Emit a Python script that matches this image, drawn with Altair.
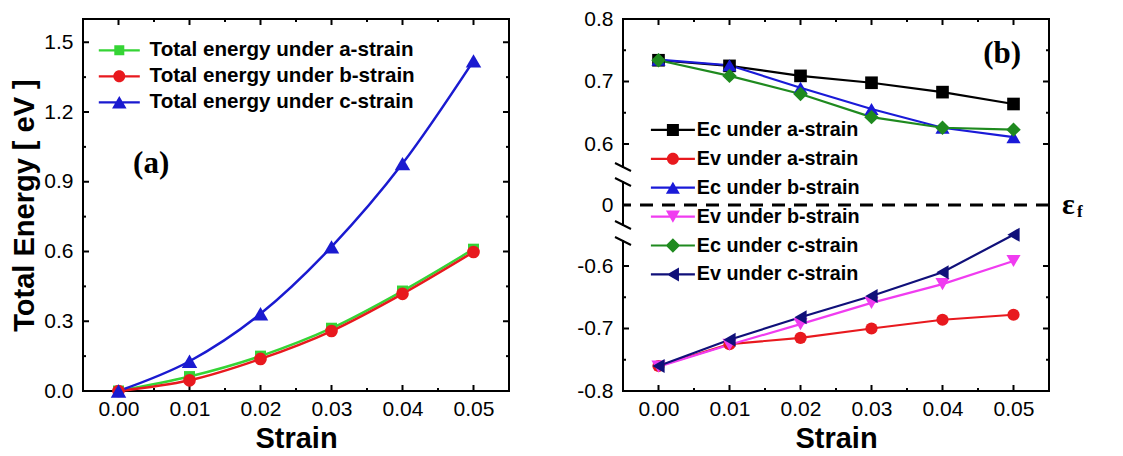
import altair as alt
import pandas as pd

# ---------------- data ----------------
strain = [0.00, 0.01, 0.02, 0.03, 0.04, 0.05]

total_names = ["Total energy under a-strain",
               "Total energy under b-strain",
               "Total energy under c-strain"]
total_a = [0.0, 0.062, 0.150, 0.270, 0.430, 0.610]
total_b = [0.0, 0.046, 0.138, 0.258, 0.418, 0.598]
total_c = [0.0, 0.128, 0.332, 0.620, 0.978, 1.420]

band_names = ["Ec under a-strain", "Ev under a-strain",
              "Ec under b-strain", "Ev under b-strain",
              "Ec under c-strain", "Ev under c-strain"]
ec_a = [0.734, 0.725, 0.709, 0.698, 0.683, 0.664]
ev_a = [-0.760, -0.725, -0.715, -0.700, -0.686, -0.678]
ec_b = [0.735, 0.726, 0.690, 0.656, 0.626, 0.611]
ev_b = [-0.761, -0.726, -0.693, -0.659, -0.629, -0.592]
ec_c = [0.734, 0.709, 0.680, 0.643, 0.626, 0.623]
ev_c = [-0.760, -0.718, -0.682, -0.648, -0.610, -0.550]

x_major = [0.00, 0.01, 0.02, 0.03, 0.04, 0.05]
x_minor = [0.005, 0.015, 0.025, 0.035, 0.045]
ya_major = [0.0, 0.3, 0.6, 0.9, 1.2, 1.5]
ya_minor = [0.15, 0.45, 0.75, 1.05, 1.35]
yb_major = [-0.8, -0.7, -0.6, 0.0, 0.6, 0.7, 0.8]
yb_minor = [-0.75, -0.65, 0.65, 0.75]

# ---------------- styling ----------------
W, H = 426, 372
SANS = "Liberation Sans"
SERIF = "Liberation Serif"
MAJ, MIN = 6, 3

left_colors = ["#35d435", "#e8191e", "#1a1ad0"]
left_shapes = ["square", "circle", "triangle-up"]
left_sizes = [121, 160, 240]
left_marks = [("square", 1.0), ("circle", 1.2), ("triangle-up", 1.45)]

right_colors = ["#000000", "#e8191e", "#1a1ad8", "#f03cf0", "#1f8a1f", "#10107a"]
right_shapes = ["square", "circle", "triangle-up", "triangle-down", "diamond", "triangle-left"]
right_sizes = [160, 150, 200, 200, 210, 200]
right_marks = [("square", 1.2), ("circle", 1.2), ("triangle-up", 1.4),
               ("triangle-down", 1.4), ("diamond", 1.45), ("triangle-left", 1.4)]


def long_df(names, series):
    rows = []
    for n, vals in zip(names, series):
        for s, v in zip(strain, vals):
            rows.append({"strain": s, "value": v, "series": n})
    return pd.DataFrame(rows)


def fmt(v):
    return f"{v:.3f}".rstrip("0").rstrip(".") if v != 0 else "0"


def sym_path(kind, s, L, t=0.22):
    line = f"M{fmt(-L)},{fmt(-t)}H{fmt(L)}V{fmt(t)}H{fmt(-L)}Z"
    h = s * 0.866
    if kind == "square":
        m = f"M{fmt(-s)},{fmt(-s)}H{fmt(s)}V{fmt(s)}H{fmt(-s)}Z"
    elif kind == "circle":
        m = f"M{fmt(-s)},0A{fmt(s)},{fmt(s)} 0 1,1 {fmt(s)},0A{fmt(s)},{fmt(s)} 0 1,1 {fmt(-s)},0Z"
    elif kind == "triangle-up":
        m = f"M0,{fmt(-h)}L{fmt(s)},{fmt(h)}L{fmt(-s)},{fmt(h)}Z"
    elif kind == "triangle-down":
        m = f"M0,{fmt(h)}L{fmt(-s)},{fmt(-h)}L{fmt(s)},{fmt(-h)}Z"
    elif kind == "diamond":
        m = f"M0,{fmt(-s)}L{fmt(s)},0L0,{fmt(s)}L{fmt(-s)},0Z"
    else:  # triangle-left
        m = f"M{fmt(-h)},0L{fmt(h)},{fmt(-s)}L{fmt(h)},{fmt(s)}Z"
    return line + m


one = pd.DataFrame({"k": [0]})
x_scale = alt.Scale(domain=[-0.005, 0.055], nice=False, zero=False)
ya_scale = alt.Scale(domain=[0, 1.6], nice=False, zero=False)
SC = 625.0
yb_scale = alt.Scale(domain=[-0.8, -0.55, 0.0, 0.55, 0.8],
                     range=[H, H - 0.25 * SC, H / 2, 0.25 * SC, 0],
                     nice=False, zero=False)

axis_common = dict(ticks=False, domain=False, grid=False, labels=True, labelFlush=False,
                   labelFont=SANS, labelFontSize=21, labelColor="black",
                   titleFont=SANS, titleFontSize=29, titleFontWeight="bold", titleColor="black")

x_axis = alt.Axis(title="Strain", values=x_major, format=".2f",
                  labelPadding=7, titlePadding=5, **axis_common)
ya_axis = alt.Axis(title="Total Energy [ eV ]", values=ya_major, format=".1f",
                   labelPadding=10, titlePadding=4, **axis_common)
yb_axis = alt.Axis(title="", values=yb_major, labelExpr="'' + datum.value",
                   labelPadding=10, **axis_common)


def rule(**enc):
    return alt.Chart(one).mark_rule(color="black", strokeWidth=2, strokeCap="square").encode(**enc)


def tick_layers(y_scale, y_axis, y_major, y_minor):
    layers = []
    for vals, L in ((x_major, MAJ), (x_minor, MIN)):
        d = pd.DataFrame({"v": vals})
        base = alt.Chart(d).mark_rule(color="black", strokeWidth=2)
        xe = alt.X("v:Q", scale=x_scale, axis=x_axis)
        layers.append(base.encode(x=xe, y=alt.value(H), y2=alt.value(H - L)))
        layers.append(base.encode(x=xe, y=alt.value(0), y2=alt.value(L)))
    for vals, L in ((y_major, MAJ), (y_minor, MIN)):
        d = pd.DataFrame({"v": vals})
        base = alt.Chart(d).mark_rule(color="black", strokeWidth=2)
        ye = alt.Y("v:Q", scale=y_scale, axis=y_axis)
        layers.append(base.encode(y=ye, x=alt.value(0), x2=alt.value(L)))
        layers.append(base.encode(y=ye, x=alt.value(W - L), x2=alt.value(W)))
    return layers


def guide_layer(df, names, colors, marks, y_scale, y_axis, legend, half_len):
    """Invisible layer that carries the legend (line-through-marker symbols)."""
    color = alt.Scale(domain=names, range=colors)
    paths = [sym_path(k, s, half_len) for k, s in marks]
    return alt.Chart(df).mark_point(filled=True, opacity=0, size=100).encode(
        x=alt.X("strain:Q", scale=x_scale, axis=x_axis),
        y=alt.Y("value:Q", scale=y_scale, axis=y_axis),
        color=alt.Color("series:N", scale=color, legend=legend),
        shape=alt.Shape("series:N", scale=alt.Scale(domain=names, range=paths), legend=legend),
    )


def series_layers(df, names, colors, shapes, sizes, y_scale, y_axis, interp, line_w):
    color = alt.Scale(domain=names, range=colors)
    lines = alt.Chart(df).mark_line(strokeWidth=line_w, interpolate=interp).encode(
        x=alt.X("strain:Q", scale=x_scale, axis=x_axis),
        y=alt.Y("value:Q", scale=y_scale, axis=y_axis),
        color=alt.Color("series:N", scale=color, legend=None),
    )
    pts = []
    for n, c, shp, sz in zip(names, colors, shapes, sizes):
        pts.append(
            alt.Chart(df).transform_filter(alt.datum.series == n)
            .mark_point(shape=shp, filled=True, size=sz, color=c, opacity=1)
            .encode(x=alt.X("strain:Q", scale=x_scale, axis=x_axis),
                    y=alt.Y("value:Q", scale=y_scale, axis=y_axis))
        )
    return [lines] + pts


def make_legend(lx, ly, offset, rowpad, fsize):
    return alt.Legend(orient="none", legendX=lx, legendY=ly, title=None,
                      labelFont=SANS, labelFontSize=fsize, labelFontWeight="bold",
                      labelColor="black", symbolSize=100, symbolStrokeWidth=0,
                      symbolOpacity=1, labelOffset=offset, rowPadding=rowpad,
                      padding=0, labelLimit=0)


# ---------------- panel (a) ----------------
df_a = long_df(total_names, [total_a, total_b, total_c])
frame_a = [
    rule(x=alt.value(0), x2=alt.value(W), y=alt.value(0)),
    rule(x=alt.value(0), x2=alt.value(W), y=alt.value(H)),
    rule(x=alt.value(0), y=alt.value(0), y2=alt.value(H)),
    rule(x=alt.value(W), y=alt.value(0), y2=alt.value(H)),
]
label_a = alt.Chart(one).mark_text(text="(a)", font=SERIF, fontSize=31, fontWeight="bold",
                                   color="black").encode(
    x=alt.XDatum(0.0046, scale=x_scale, axis=x_axis),
    y=alt.YDatum(0.978, scale=ya_scale, axis=ya_axis))

panel_a = alt.layer(
    guide_layer(df_a, total_names, left_colors, left_marks, ya_scale, ya_axis,
                make_legend(26, 21, 20, 5.0, 20.6), 4.1),
    *frame_a,
    *tick_layers(ya_scale, ya_axis, ya_major, ya_minor),
    *series_layers(df_a, total_names, left_colors, left_shapes, left_sizes,
                   ya_scale, ya_axis, "monotone", 2.5),
    label_a,
).properties(width=W, height=H)

# ---------------- panel (b) ----------------
df_b = long_df(band_names, [ec_a, ev_a, ec_b, ev_b, ec_c, ev_c])
up1, up2, lo1, lo2 = H / 2 - 38, H / 2 - 23, H / 2 + 20, H / 2 + 36
frame_b = [
    rule(x=alt.value(0), x2=alt.value(W), y=alt.value(0)),
    rule(x=alt.value(0), x2=alt.value(W), y=alt.value(H)),
    rule(x=alt.value(W), y=alt.value(0), y2=alt.value(H)),
    rule(x=alt.value(0), y=alt.value(0), y2=alt.value(up1)),
    rule(x=alt.value(0), y=alt.value(up2), y2=alt.value(lo1)),
    rule(x=alt.value(0), y=alt.value(lo2), y2=alt.value(H)),
]
slashes = [
    alt.Chart(one).mark_rule(color="black", strokeWidth=2).encode(
        x=alt.value(-8), x2=alt.value(8), y=alt.value(yc - 4), y2=alt.value(yc + 4))
    for yc in (up1, up2, lo1, lo2)
]
zero_line = alt.Chart(one).mark_rule(color="black", strokeWidth=3, strokeDash=[13, 9]).encode(
    y=alt.YDatum(0, scale=yb_scale, axis=yb_axis))
label_b = alt.Chart(one).mark_text(text="(b)", font=SERIF, fontSize=31, fontWeight="bold",
                                   color="black").encode(
    x=alt.XDatum(0.0484, scale=x_scale, axis=x_axis),
    y=alt.YDatum(0.744, scale=yb_scale, axis=yb_axis))
eps = alt.Chart(one).mark_text(text="ε", font=SERIF, fontSize=30, fontWeight="bold",
                               color="black", align="left", baseline="middle").encode(
    x=alt.value(W + 13), y=alt.YDatum(0, scale=yb_scale, axis=yb_axis))
eps_sub = alt.Chart(one).mark_text(text="f", font=SERIF, fontSize=17, fontWeight="bold",
                                   color="black", align="left", baseline="middle", dy=7).encode(
    x=alt.value(W + 28), y=alt.YDatum(0, scale=yb_scale, axis=yb_axis))

panel_b = alt.layer(
    guide_layer(df_b, band_names, right_colors, right_marks, yb_scale, yb_axis,
                make_legend(40, 101, 14, 7.9, 19.8), 4.4),
    *frame_b,
    *slashes,
    *tick_layers(yb_scale, yb_axis, yb_major, yb_minor),
    zero_line,
    *series_layers(df_b, band_names, right_colors, right_shapes, right_sizes,
                   yb_scale, yb_axis, "linear", 2.2),
    label_b, eps, eps_sub,
).properties(width=W, height=H)

chart = alt.hconcat(panel_a, panel_b, spacing=65).resolve_scale(
    color="independent", shape="independent"
).properties(
    padding={"left": 2, "top": 0, "right": 5, "bottom": 0}
).configure_view(stroke=None)

chart.save("out.html", embed_options={"renderer": "svg", "actions": False})
